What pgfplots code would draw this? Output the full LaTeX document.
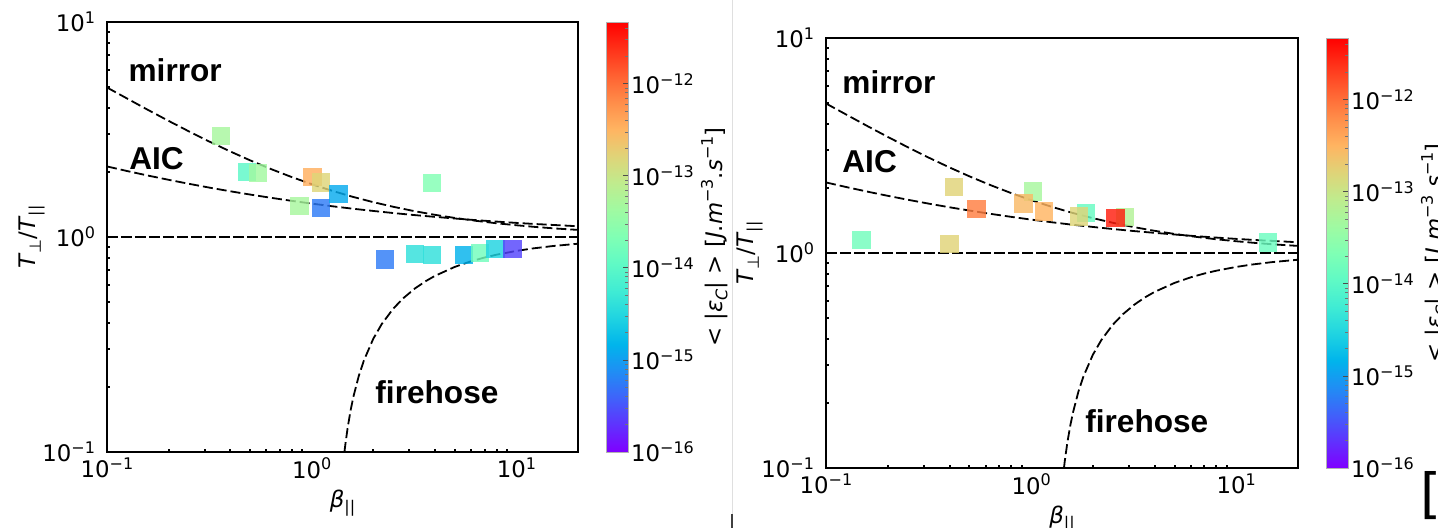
\documentclass[border=0pt]{standalone}
\usepackage{fontspec}
\setmainfont{DejaVu Sans}
\newfontfamily\lblfont{Liberation Sans}
\usepackage{pgfplots}
\usepackage{pgfplotstable}
\pgfplotsset{compat=1.18}

% 10^n tick labels in the text font
\newcommand{\tenpow}[1]{10\raisebox{0.36em}{\fontsize{8}{8}\selectfont #1}}
\newcommand{\sub}[1]{\raisebox{-0.22em}{\fontsize{8}{8}\selectfont #1}}
\newcommand{\sups}[1]{\raisebox{0.42em}{\fontsize{8}{8}\selectfont #1}}
\newcommand{\lbl}{\lblfont\bfseries\fontsize{15.8}{16}\selectfont}

% instability thresholds
\pgfplotstableread{
beta T
0.1 4.958
0.1259 4.397
0.1585 3.902
0.1995 3.472
0.2512 3.100
0.3162 2.779
0.3981 2.505
0.5012 2.271
0.6310 2.072
0.7943 1.904
1.0 1.761
1.259 1.640
1.585 1.538
1.995 1.453
2.512 1.381
3.162 1.320
3.981 1.269
5.012 1.226
6.310 1.190
7.943 1.159
10.0 1.134
12.59 1.112
15.85 1.094
20.0 1.079
}\mirror

\pgfplotstableread{
beta T
0.1 2.129
0.1259 2.025
0.1585 1.931
0.1995 1.846
0.2512 1.768
0.3162 1.697
0.3981 1.633
0.5012 1.575
0.6310 1.522
0.7943 1.474
1.0 1.430
1.259 1.390
1.585 1.354
1.995 1.322
2.512 1.292
3.162 1.265
3.981 1.241
5.012 1.219
6.310 1.198
7.943 1.180
10.0 1.163
12.59 1.148
15.85 1.135
20.0 1.122
}\aic

\pgfplotstableread{
beta T
1.4456 0.1000
1.46 0.1083
1.5 0.1304
1.55 0.1566
1.6 0.1813
1.7 0.2265
1.8 0.2670
2.0 0.3365
2.2 0.3939
2.5 0.4636
2.8 0.5189
3.2 0.5770
3.6 0.6226
4.0 0.6594
5.0 0.7260
6.0 0.7709
7.0 0.8031
8.0 0.8274
10.0 0.8615
12.0 0.8844
15.0 0.9073
20.0 0.9304
}\firehose

% observed intervals: beta, T_perp/T_par, log10 <|eps_C|>
\pgfplotstableread{
b t c
0.36 2.95 -13.3
0.482 2.01 -14.0
0.546 1.98 -13.35
1.01 1.90 -12.45
1.107 1.79 -12.8
0.873 1.39 -13.3
1.107 1.36 -15.25
1.35 1.58 -14.9
3.87 1.78 -13.65
2.28 0.787 -15.25
3.19 0.834 -14.4
3.86 0.824 -14.4
5.55 0.824 -14.85
6.62 0.84 -13.8
7.89 0.88 -14.55
9.59 0.88 -15.6
}\ptsA

\pgfplotstableread{
b t c
0.149 1.146 -13.8
0.40 1.10 -12.78
0.42 2.03 -12.78
0.541 1.60 -12.1
1.02 1.93 -13.3
0.916 1.70 -12.55
1.156 1.56 -12.5
1.85 1.53 -13.9
1.71 1.48 -12.8
2.86 1.47 -13.2
2.58 1.45 -11.5
14.3 1.12 -13.85
}\ptsB

\pgfplotsset{
  colormap={mplrainbow}{
    rgb=(0.5,0,1) rgb=(0.375,0.195,0.995) rgb=(0.25,0.383,0.981)
    rgb=(0.125,0.556,0.957) rgb=(0,0.707,0.924) rgb=(0.125,0.831,0.882)
    rgb=(0.25,0.924,0.831) rgb=(0.375,0.981,0.773) rgb=(0.5,1,0.707)
    rgb=(0.625,0.981,0.634) rgb=(0.75,0.924,0.556) rgb=(0.875,0.831,0.471)
    rgb=(1,0.707,0.383) rgb=(1,0.556,0.290) rgb=(1,0.383,0.195)
    rgb=(1,0.195,0.098) rgb=(1,0,0)},
  tick label style={font=\fontsize{11.4}{13}\selectfont},
  label style={font=\fontsize{11.4}{13}\selectfont},
}

\begin{document}
\begin{tikzpicture}[x=1pt,y=1pt]
\useasboundingbox (0,0) rectangle (719,264);

% left panel
\begin{axis}[
  at={(53.5pt,38pt)}, anchor=south west,
  scale only axis, width=235.5pt, height=215pt,
  xmode=log, ymode=log, xmin=0.1, xmax=20, ymin=0.1, ymax=10,
  axis line style={line width=1pt},
  xtick={0.1,1,10}, ytick={0.1,1,10},
  xticklabels={\tenpow{−1},\tenpow{0},\tenpow{1}},
  yticklabels={\tenpow{−1},\tenpow{0},\tenpow{1}},
  minor xtick={0.2,0.3,0.4,0.5,0.6,0.7,0.8,0.9,2,3,4,5,6,7,8,9},
  minor ytick={0.2,0.3,0.4,0.5,0.6,0.7,0.8,0.9,2,3,4,5,6,7,8,9},
  xtick pos=bottom, ytick pos=left, tick align=inside,
  major tick length=0pt, minor tick length=1.4pt,
  minor tick style={black, line width=1pt},
  xticklabel style={anchor=north, inner sep=0pt, outer ysep=3pt},
  yticklabel style={anchor=east, inner sep=0pt, outer xsep=6pt},
  xlabel={\textit{β}\sub{||}},
  ylabel={\textit{T}\sub{⊥}/\textit{T}\sub{||}},
  xlabel style={at={(axis description cs:0.5,0)}, anchor=center, yshift=-25.5pt},
  ylabel style={at={(axis description cs:0,0.5)}, anchor=center, yshift=37.5pt},
  colormap name=mplrainbow,
  point meta min=-16, point meta max=-11.33,
  colorbar,
  colorbar style={
    width=11pt,
    at={(parent axis.north east)}, anchor=north west, xshift=5.5pt,
    ytick={-16,-15,-14,-13,-12},
    yticklabels={\tenpow{−16},\tenpow{−15},\tenpow{−14},\tenpow{−13},\tenpow{−12}},
    minor ytick={-15.699,-15.523,-15.398,-15.301,-15.222,-15.155,-15.097,-15.046,
                 -14.699,-14.523,-14.398,-14.301,-14.222,-14.155,-14.097,-14.046,
                 -13.699,-13.523,-13.398,-13.301,-13.222,-13.155,-13.097,-13.046,
                 -12.699,-12.523,-12.398,-12.301,-12.222,-12.155,-12.097,-12.046,
                 -11.699,-11.523,-11.398},
    ytick pos=right,
    yticklabel style={anchor=west, inner sep=0pt, outer xsep=1.5pt},
    tick align=inside, major tick length=2.5pt, minor tick length=1.5pt,
    major tick style={black!70, line width=0.4pt},
    minor tick style={black!55, line width=0.3pt},
    axis line style={draw=gray!60, line width=0.4pt},
    ylabel={<~|\textit{ε}\sub{\textit{C}}|~>~[\textit{J}.\textit{m}\sups{−3}.\textit{s}\sups{−1}]},
  },
]
  \addplot[scatter, only marks, mark=square*, mark size=4.6pt, scatter src=explicit,
    scatter/use mapped color={draw=mapped color, draw opacity=0, fill=mapped color, fill opacity=0.82}]
    table[x=b, y=t, meta=c] \ptsA;
  \addplot[black, line width=0.9pt, dash pattern=on 5pt off 2pt] table[x=beta, y=T] \mirror;
  \addplot[black, line width=0.9pt, dash pattern=on 5pt off 2pt] table[x=beta, y=T] \aic;
  \addplot[black, line width=0.9pt, dash pattern=on 5pt off 2pt] table[x=beta, y=T] \firehose;
  \addplot[black, line width=1.3pt, dash pattern=on 5.5pt off 1.5pt] coordinates {(0.1,1) (20,1)};
  \node[anchor=base west, inner sep=0pt, font=\lbl] at (axis cs:0.127,5.26) {mirror};
  \node[anchor=base west, inner sep=0pt, font=\lbl] at (axis cs:0.128,2.07) {AIC};
  \node[anchor=base west, inner sep=0pt, font=\lbl] at (axis cs:2.04,0.169) {firehose};
\end{axis}

% right panel
\begin{axis}[
  at={(413pt,30pt)}, anchor=south west,
  scale only axis, width=236pt, height=215pt,
  xmode=log, ymode=log, xmin=0.1, xmax=20, ymin=0.1, ymax=10,
  axis line style={line width=1pt},
  xtick={0.1,1,10}, ytick={0.1,1,10},
  xticklabels={\tenpow{−1},\tenpow{0},\tenpow{1}},
  yticklabels={\tenpow{−1},\tenpow{0},\tenpow{1}},
  minor xtick={0.2,0.3,0.4,0.5,0.6,0.7,0.8,0.9,2,3,4,5,6,7,8,9},
  minor ytick={0.2,0.3,0.4,0.5,0.6,0.7,0.8,0.9,2,3,4,5,6,7,8,9},
  xtick pos=bottom, ytick pos=left, tick align=inside,
  major tick length=0pt, minor tick length=1.4pt,
  minor tick style={black, line width=1pt},
  xticklabel style={anchor=north, inner sep=0pt, outer ysep=3pt},
  yticklabel style={anchor=east, inner sep=0pt, outer xsep=6pt},
  xlabel={\textit{β}\sub{||}},
  ylabel={\textit{T}\sub{⊥}/\textit{T}\sub{||}},
  xlabel style={at={(axis description cs:0.5,0)}, anchor=center, yshift=-25.5pt},
  ylabel style={at={(axis description cs:0,0.5)}, anchor=center, yshift=38pt},
  colormap name=mplrainbow,
  point meta min=-16, point meta max=-11.33,
  colorbar,
  colorbar style={
    width=11pt,
    at={(parent axis.north east)}, anchor=north west, xshift=5.5pt,
    ytick={-16,-15,-14,-13,-12},
    yticklabels={\tenpow{−16},\tenpow{−15},\tenpow{−14},\tenpow{−13},\tenpow{−12}},
    minor ytick={-15.699,-15.523,-15.398,-15.301,-15.222,-15.155,-15.097,-15.046,
                 -14.699,-14.523,-14.398,-14.301,-14.222,-14.155,-14.097,-14.046,
                 -13.699,-13.523,-13.398,-13.301,-13.222,-13.155,-13.097,-13.046,
                 -12.699,-12.523,-12.398,-12.301,-12.222,-12.155,-12.097,-12.046,
                 -11.699,-11.523,-11.398},
    ytick pos=right,
    yticklabel style={anchor=west, inner sep=0pt, outer xsep=1.5pt},
    tick align=inside, major tick length=2.5pt, minor tick length=1.5pt,
    major tick style={black!70, line width=0.4pt},
    minor tick style={black!55, line width=0.3pt},
    axis line style={draw=gray!60, line width=0.4pt},
    ylabel={<~|\textit{ε}\sub{\textit{C}}|~>~[\textit{J}.\textit{m}\sups{−3}.\textit{s}\sups{−1}]},
  },
]
  \addplot[scatter, only marks, mark=square*, mark size=4.6pt, scatter src=explicit,
    scatter/use mapped color={draw=mapped color, draw opacity=0, fill=mapped color, fill opacity=0.82}]
    table[x=b, y=t, meta=c] \ptsB;
  \addplot[black, line width=0.9pt, dash pattern=on 5pt off 2pt] table[x=beta, y=T] \mirror;
  \addplot[black, line width=0.9pt, dash pattern=on 5pt off 2pt] table[x=beta, y=T] \aic;
  \addplot[black, line width=0.9pt, dash pattern=on 5pt off 2pt] table[x=beta, y=T] \firehose;
  \addplot[black, line width=1.3pt, dash pattern=on 5.5pt off 1.5pt] coordinates {(0.1,1) (20,1)};
  \node[anchor=base west, inner sep=0pt, font=\lbl] at (axis cs:0.1197,5.49) {mirror};
  \node[anchor=base west, inner sep=0pt, font=\lbl] at (axis cs:0.1197,2.38) {AIC};
  \node[anchor=base west, inner sep=0pt, font=\lbl] at (axis cs:1.83,0.147) {firehose};
\end{axis}

% panel separator and edge marks
\draw[gray!25, line width=0.5pt] (366,0) -- (366,264);
\draw[black!75, line width=0.8pt] (366,0) -- (366,7);
\node[anchor=base west, inner sep=0pt, font=\fontsize{27}{27}\selectfont] at (710,7.5) {[};
\end{tikzpicture}
\end{document}
